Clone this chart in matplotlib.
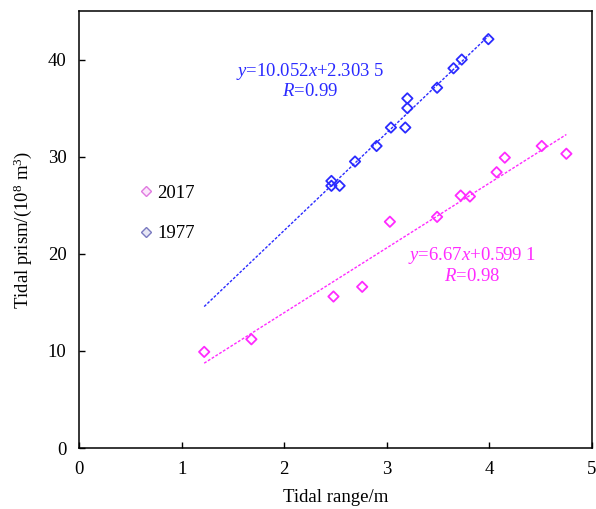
import numpy as np
import matplotlib
matplotlib.use("Agg")
import matplotlib.pyplot as plt
from matplotlib.lines import Line2D

plt.rcParams['font.family'] = ['Liberation Serif', 'DejaVu Serif']
plt.rcParams['mathtext.fontset'] = 'custom'
plt.rcParams['mathtext.rm'] = 'Liberation Serif'
plt.rcParams['mathtext.it'] = 'Liberation Serif:italic'

# ── data ──────────────────────────────────────────────────────────────────
range_1977 = [3.99, 3.73, 3.65, 3.49, 3.20, 3.20, 3.18, 3.04, 2.90, 2.69, 2.46, 2.46, 2.54]
prism_1977 = [42.1, 40.0, 39.1, 37.1, 36.0, 35.0, 33.0, 33.0, 31.1, 29.5, 27.5, 27.0, 27.0]

range_2017 = [4.75, 4.51, 4.15, 4.07, 3.81, 3.72, 3.49, 3.03, 2.76, 2.48, 1.68, 1.22]
prism_2017 = [30.3, 31.1, 29.9, 28.4, 25.9, 26.0, 23.8, 23.3, 16.6, 15.6, 11.2, 9.9]

fit_1977 = (10.052, 2.3035)
fit_2017 = (6.67, 0.5991)

c_blue = "#2b2bff"
c_mag = "#ff2bff"

fig = plt.figure(figsize=(5.96, 5.09), dpi=100)
ax = fig.add_axes([0.1326, 0.1198, 0.9933 - 0.1326, 0.9784 - 0.1198])

ax.scatter(range_1977, prism_1977, marker="D", s=28, facecolors="none",
           edgecolors=c_blue, linewidths=1.3, zorder=3)
ax.scatter(range_2017, prism_2017, marker="D", s=28, facecolors="none",
           edgecolors=c_mag, linewidths=1.3, zorder=3)

# regression lines
x1 = np.array([min(range_2017), max(range_1977)])
ax.plot(x1, fit_1977[0] * x1 + fit_1977[1], ls=(0, (2, 1.2)), color=c_blue, lw=1.0)
x2 = np.array([min(range_2017), max(range_2017)])
ax.plot(x2, fit_2017[0] * x2 + fit_2017[1], ls=(0, (2, 1.2)), color=c_mag, lw=1.0)

ax.text(2.25, 38.8, r"$y$=10.052$x$+2.303 5", color=c_blue, fontsize=13.5,
        ha="center", va="center")
ax.text(2.25, 36.7, r"$R$=0.99", color=c_blue, fontsize=13.5,
        ha="center", va="center")
ax.text(3.83, 19.8, r"$y$=6.67$x$+0.599 1", color=c_mag, fontsize=13.5,
        ha="center", va="center")
ax.text(3.83, 17.7, r"$R$=0.98", color=c_mag, fontsize=13.5,
        ha="center", va="center")

handles = [
    Line2D([], [], ls="none", marker="D", markersize=5.5, markerfacecolor="#fbe6fb",
           markeredgecolor="#e07ae0", markeredgewidth=1.0, label="2017"),
    Line2D([], [], ls="none", marker="D", markersize=5.5, markerfacecolor="#e6e6f4",
           markeredgecolor="#7a7ac0", markeredgewidth=1.0, label="1977"),
]
ax.legend(handles=handles, loc="upper left", bbox_to_anchor=(0.097, 0.62),
          frameon=False, fontsize=13.5, handletextpad=0.1, handlelength=1.0,
          labelspacing=1.25, borderaxespad=0)

ax.set_xlim(0, 5)
ax.set_ylim(0, 45)
ax.set_xticks([0, 1, 2, 3, 4, 5])
ax.set_yticks([0, 10, 20, 30, 40])
ax.tick_params(direction="in", length=4, width=1.0, labelsize=13.5, pad=9)
for sp in ax.spines.values():
    sp.set_linewidth(1.1)

ax.set_xlabel("Tidal range/m", fontsize=13.5, labelpad=8)
ax.set_ylabel(r"Tidal prism/(10$^{8}$ m$^{3}$)", fontsize=13.5, labelpad=10)

fig.savefig("out.png", dpi=100)
